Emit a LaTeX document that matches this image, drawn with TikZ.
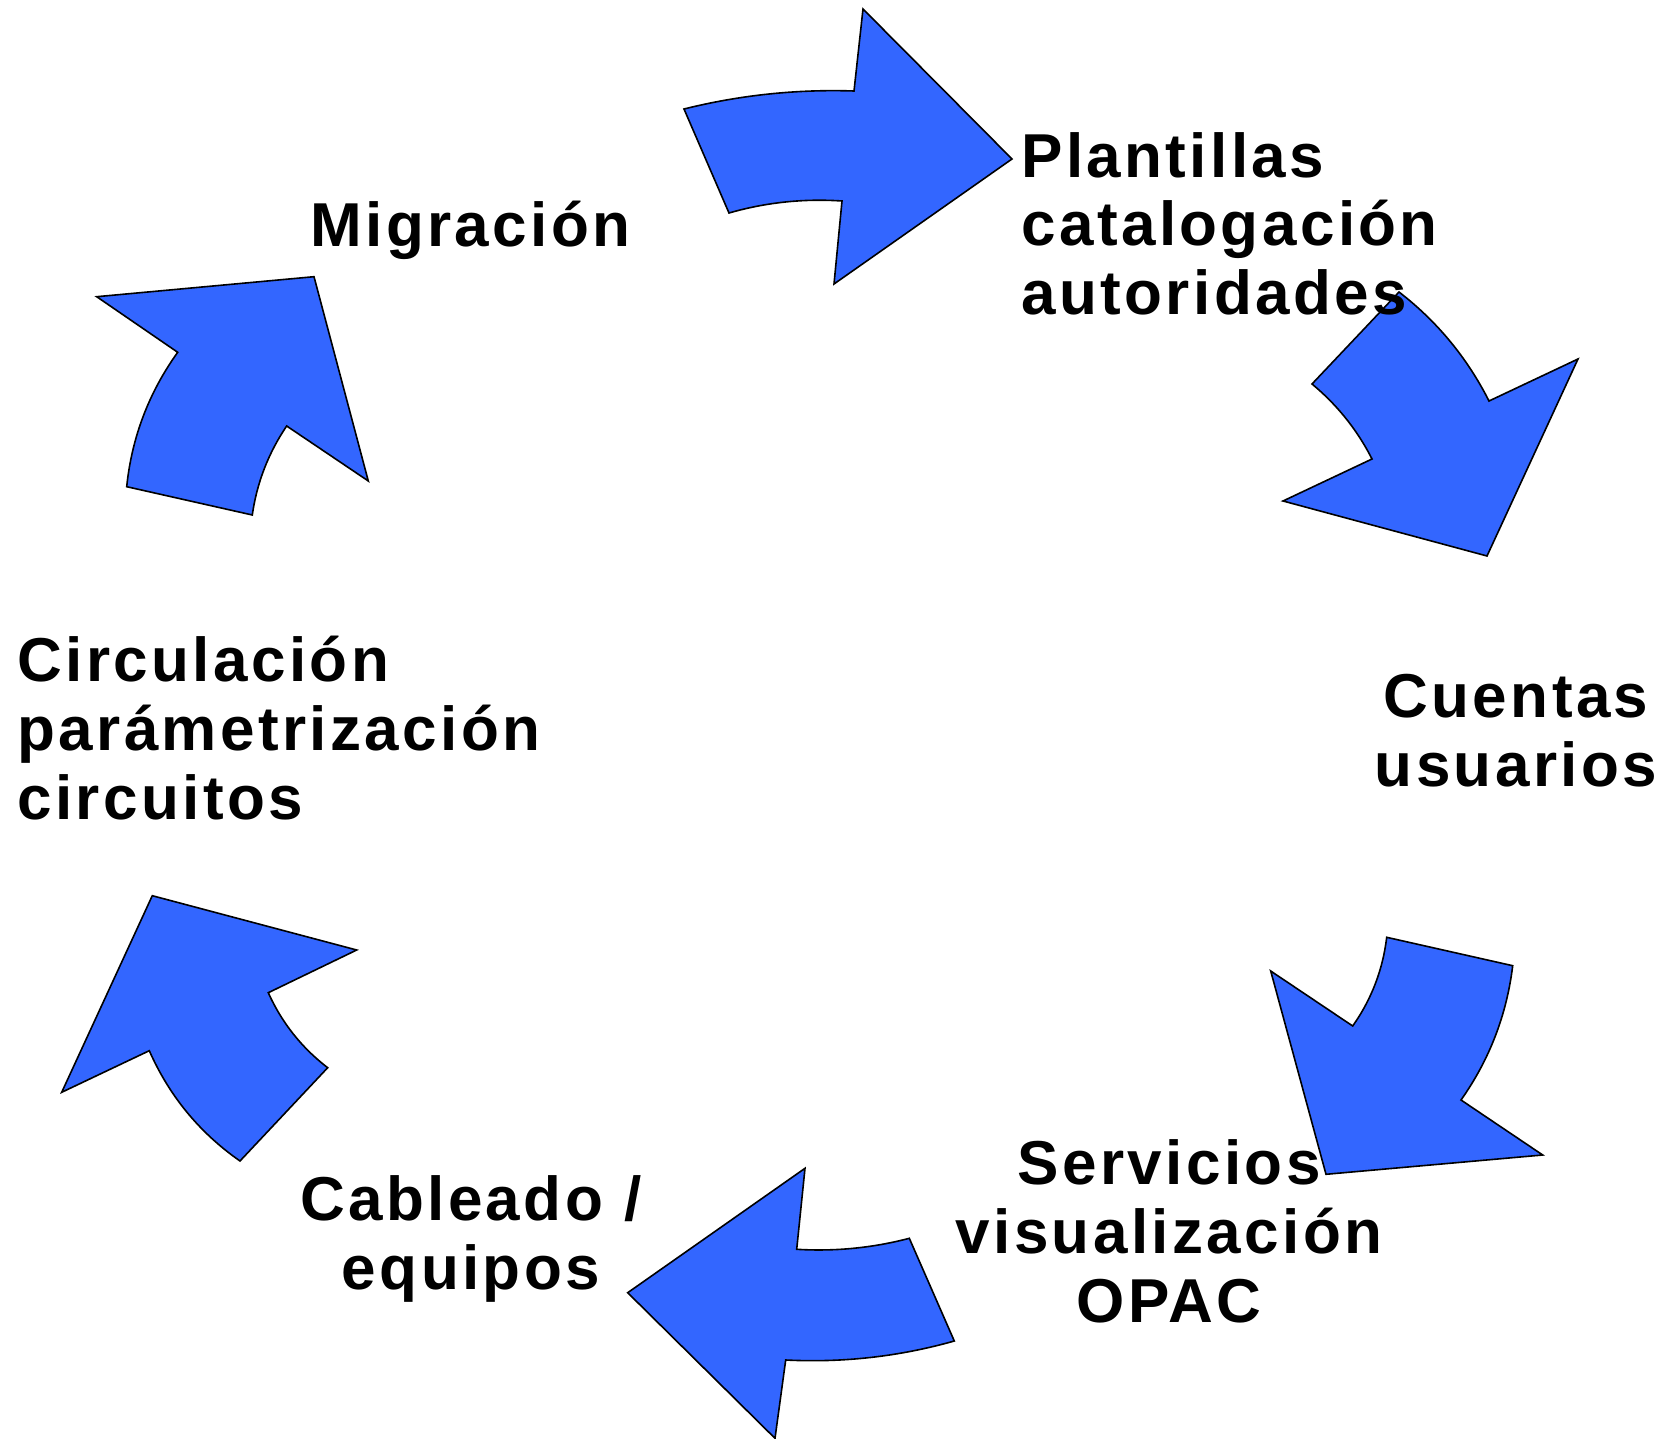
\documentclass[tikz,border=0pt]{standalone}
\usepackage{fontspec}
\setmainfont{Liberation Sans}[LetterSpace=5.5]
\definecolor{arrowblue}{HTML}{3366FF}
\begin{document}
\begin{tikzpicture}[x=0.5pt,y=-0.5pt,
  blockarrow/.style={fill=arrowblue,draw=black,line width=0.8pt,line join=miter},
  label/.style={inner sep=0pt,font=\fontsize{31}{34.5}\selectfont\bfseries}]
\useasboundingbox (0,0) rectangle (1667,1439);
% arrow 1 (top, to the right)
\path[blockarrow] (684,109) .. controls (739.8,95.1) and (796.5,89.1) .. (854,91) -- (863,9) -- (1012,159)
  -- (834,284) -- (842,201) .. controls (803.6,198.4) and (765.9,202.4) .. (729,213) -- cycle;
% arrow 2 (top right, downwards)
\path[blockarrow] (1399,292) .. controls (1437.2,321.5) and (1467.2,357.9) .. (1489,401) -- (1578,359)
  -- (1487,556) -- (1283,501) -- (1372,459) .. controls (1357.2,429.9) and (1337.2,404.9) .. (1312,384) -- cycle;
% arrow 3 (bottom right, downwards)
\path[blockarrow] (1512.7,965.7) .. controls (1506.7,1014.8) and (1489.5,1059.6) .. (1461,1100) -- (1542.7,1155)
  -- (1326,1174.3) -- (1270.7,971) -- (1352.7,1026) .. controls (1371.5,999.3) and (1382.8,969.8) .. (1386.7,937.3) -- cycle;
% arrow 4 (bottom, to the left)
\path[blockarrow] (954.3,1341) .. controls (899.2,1356.6) and (843,1362.9) .. (785.7,1360) -- (775,1438.3)
  -- (627.7,1292.7) -- (805,1168.3) -- (796.7,1249.3) .. controls (834.8,1251.6) and (872.4,1248) .. (909.3,1238.3) -- cycle;
% arrow 5 (bottom left, upwards)
\path[blockarrow] (149.3,1050.7) .. controls (169.3,1096) and (199.5,1132.7) .. (240,1161) -- (327.7,1067.7)
  .. controls (301.6,1047.7) and (281.8,1022.7) .. (268.3,992.7) -- (356.7,950) -- (152.3,895.7) -- (61.7,1092.3) -- cycle;
% arrow 6 (top left, upwards)
\path[blockarrow] (126.7,486.7) .. controls (131.8,437.4) and (148.8,392.6) .. (177.7,352.3) -- (96.7,296.7)
  -- (314,276.7) -- (368.3,481) -- (286.7,426) .. controls (268.4,453) and (256.9,482.7) .. (252.3,515) -- cycle;
% labels (base anchor = baseline of the last line)
\node[label,anchor=base west] (mig) at (310,247) {Migración};
\node[label,anchor=base west,align=left] (plant) at (1021,315) {Plantillas\\catalogación\\autoridades};
\node[label,anchor=base,align=center] (cuen) at (1516,786) {Cuentas\\usuarios};
\node[label,anchor=base,align=center] (serv) at (1169,1322) {Servicios\\visualización\\OPAC};
\node[label,anchor=base,align=center] (cab) at (471,1289) {Cableado\hspace{0.35em}/\\equipos};
\node[label,anchor=base west,align=left] (circ) at (17,819) {Circulación\\parámetrización\\circuitos};
\end{tikzpicture}
\end{document}
